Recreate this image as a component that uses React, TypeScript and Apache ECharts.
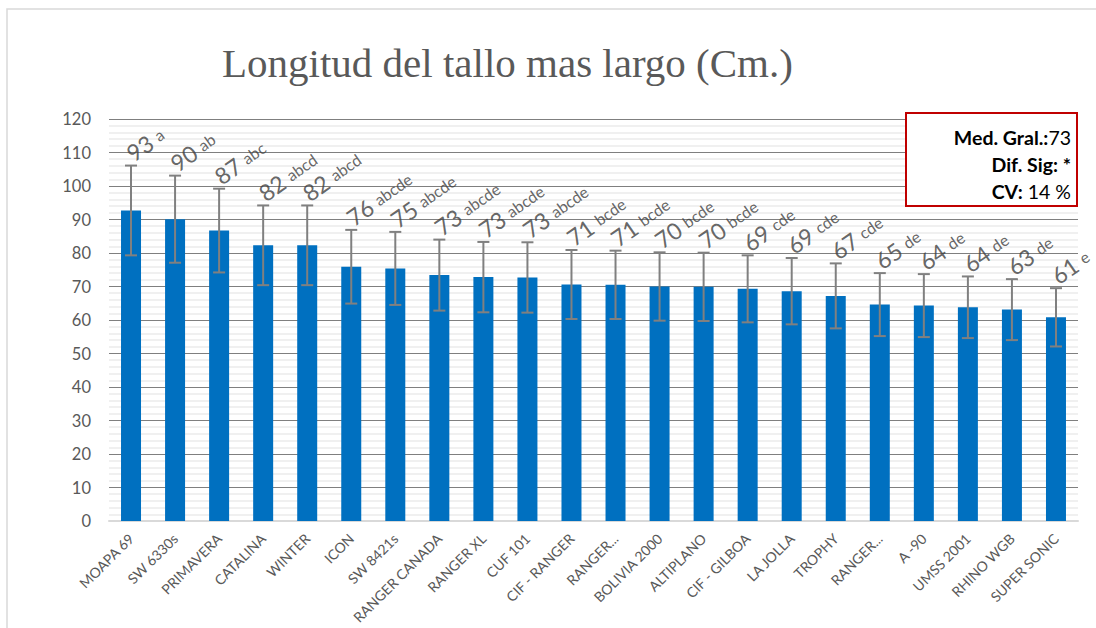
import React, { useEffect, useRef } from "react";
import * as echarts from "echarts";

const categories = [
  "MOAPA 69", "SW 6330s", "PRIMAVERA", "CATALINA", "WINTER", "ICON", "SW 8421s",
  "RANGER CANADA", "RANGER XL", "CUF 101", "CIF - RANGER", "RANGER...", "BOLIVIA 2000",
  "ALTIPLANO", "CIF - GILBOA", "LA JOLLA", "TROPHY", "RANGER...", "A -90", "UMSS 2001",
  "RHINO WGB", "SUPER SONIC",
];
const means = [92.7, 90.1, 86.7, 82.3, 82.3, 75.9, 75.4, 73.4, 72.8, 72.7, 70.6, 70.5, 70.0, 69.9, 69.3, 68.6, 67.2, 64.6, 64.3, 63.8, 63.1, 60.8];
const errors = [13.4, 13.0, 12.5, 11.9, 11.9, 11.0, 10.9, 10.6, 10.5, 10.5, 10.3, 10.2, 10.2, 10.2, 10.0, 9.9, 9.7, 9.4, 9.4, 9.2, 9.1, 8.7];
const labelNumbers = [93, 90, 87, 82, 82, 76, 75, 73, 73, 73, 71, 71, 70, 70, 69, 69, 67, 65, 64, 64, 63, 61];
const labelLetters = ["a", "ab", "abc", "abcd", "abcd", "abcde", "abcde", "abcde", "abcde", "abcde", "bcde", "bcde", "bcde", "bcde", "cde", "cde", "cde", "de", "de", "de", "de", "e"];
const yTicks = { min: 0, max: 120, interval: 10 };
const titleText = "Longitud del tallo mas largo (Cm.)";
const statsLines = [
  { bold: "Med. Gral.:", normal: "73" },
  { bold: "Dif. Sig: *", normal: "" },
  { bold: "CV:", normal: " 14 %" },
];

const SANS = "Lato, 'Open Sans', sans-serif";

export default function App() {
  const ref = useRef<HTMLDivElement>(null);
  useEffect(() => {
    if (!ref.current) return;
    const chart = echarts.init(ref.current, undefined, { renderer: "svg" });
    const errData = categories.map((_, i) => [i, means[i], errors[i]]);
    const labelData = categories.map((_, i) => [i, means[i] + errors[i]]);
    const option: any = {
      animation: false,
      backgroundColor: "#ffffff",
      grid: { left: 109, right: 18, top: 119, bottom: 107 },
      xAxis: {
        type: "category",
        data: categories,
        axisLine: { show: true, lineStyle: { color: "#d9d9d9", width: 2 } },
        axisTick: { show: false },
        axisLabel: {
          interval: 0,
          rotate: 45,
          color: "#595959",
          fontFamily: SANS,
          fontSize: 14,
          margin: 15,
        },
      },
      yAxis: {
        type: "value",
        min: yTicks.min,
        max: yTicks.max,
        interval: yTicks.interval,
        axisLine: { show: false },
        axisTick: { show: false },
        axisLabel: { color: "#595959", fontFamily: SANS, fontSize: 16.5, margin: 18 },
        splitLine: { show: true, lineStyle: { color: "#7f7f7f", width: 1 } },
        minorTick: { show: false, splitNumber: 5 },
        minorSplitLine: { show: true, lineStyle: { color: "#f0f0f0", width: 2 } },
      },
      series: [
        {
          type: "bar",
          data: means,
          barWidth: 20,
          itemStyle: { color: "#0070C0" },
          z: 2,
        },
        {
          type: "custom",
          data: errData,
          z: 3,
          renderItem: (params: any, api: any) => {
            const i = api.value(0);
            const m = api.value(1);
            const e = api.value(2);
            const top = api.coord([i, m + e]);
            const bot = api.coord([i, m - e]);
            const cap = 6;
            const style = { stroke: "#808080", lineWidth: 2 };
            return {
              type: "group",
              children: [
                { type: "line", shape: { x1: top[0], y1: top[1], x2: bot[0], y2: bot[1] }, style },
                { type: "line", shape: { x1: top[0] - cap, y1: top[1], x2: top[0] + cap, y2: top[1] }, style },
                { type: "line", shape: { x1: bot[0] - cap, y1: bot[1], x2: bot[0] + cap, y2: bot[1] }, style },
              ],
            };
          },
        },
        {
          type: "scatter",
          data: labelData,
          symbolSize: 0,
          z: 4,
          silent: true,
          label: {
            show: true,
            position: "inside",
            offset: [4, 2],
            rotate: 35,
            align: "left",
            verticalAlign: "bottom",
            formatter: (p: any) => `{n|${labelNumbers[p.dataIndex]} }{l|${labelLetters[p.dataIndex]}}`,
            rich: {
              n: { fontSize: 23, fontFamily: SANS, color: "#404040" },
              l: { fontSize: 16, fontFamily: SANS, color: "#404040" },
            },
          },
        },
      ],
      graphic: [
        {
          type: "rect",
          shape: { x: 7, y: 9, width: 1200, height: 700 },
          style: { fill: "none", stroke: "#d9d9d9", lineWidth: 1.5 },
          silent: true,
        },
        {
          type: "text",
          x: 222,
          y: 63,
          style: {
            text: titleText,
            fontFamily: "'Liberation Serif', 'DejaVu Serif', serif",
            fontSize: 41,
            fill: "#595959",
            verticalAlign: "middle",
            align: "left",
          },
        },
        {
          type: "rect",
          shape: { x: 906, y: 113, width: 171, height: 93 },
          style: { fill: "#ffffff", stroke: "#C00000", lineWidth: 2 },
          z: 10,
        },
        ...statsLines.map((ln, k) => ({
          type: "text",
          x: 1071,
          y: 137 + k * 27,
          z: 11,
          style: {
            text: `{b|${ln.bold}}{r|${ln.normal}}`,
            align: "right",
            verticalAlign: "middle",
            rich: {
              b: { fontFamily: SANS, fontSize: 19.5, fontWeight: "bold", fill: "#000000", color: "#000000" },
              r: { fontFamily: SANS, fontSize: 19.5, fill: "#000000", color: "#000000" },
            },
          },
        })),
      ],
    };
    chart.setOption(option);
    return () => chart.dispose();
  }, []);
  return (
    <div
      ref={ref}
      style={{ position: "absolute", left: 0, top: 0, width: 1096, height: 628 }}
    />
  );
}
